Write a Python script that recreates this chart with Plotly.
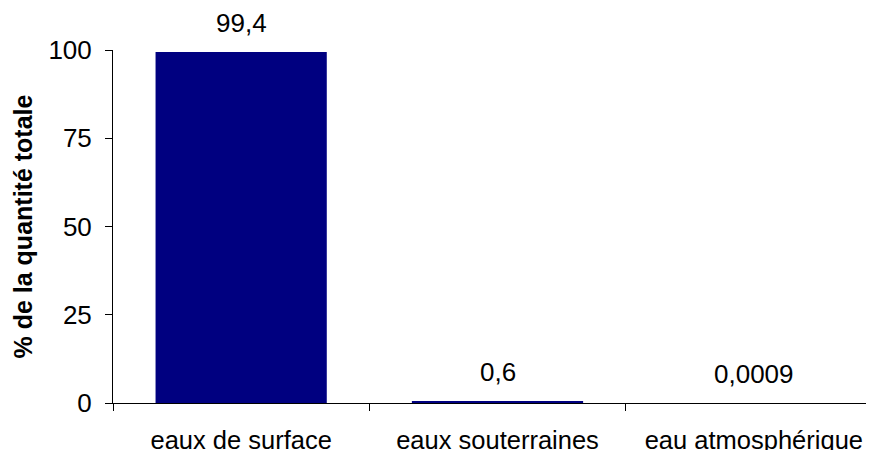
import plotly.graph_objects as go

categories = ["eaux de surface", "eaux souterraines", "eau atmosphérique"]
values = [99.4, 0.6, 0.0009]
y_ticks = [0, 25, 50, 75, 100]
y_title = "% de la quantité totale"

labels = [str(v).replace(".", ",") for v in values]

FONT = "Liberation Sans, Arial, sans-serif"
NAVY = "#000080"

# the page body has an 8px default margin; compensate in figure size
W, H = 874, 442
ML, MR, MT, MB = 105, 0, 42, 47
plot_w = W - ML - MR

fig = go.Figure()
fig.add_trace(go.Bar(
    x=categories, y=values,
    marker=dict(color=NAVY, line=dict(width=0)),
    hoverinfo="skip",
))

for c, v, t in zip(categories, values, labels):
    fig.add_annotation(
        x=c, y=v, xref="x", yref="y", text=t, showarrow=False,
        yanchor="bottom", yshift=12,
        font=dict(family=FONT, size=26, color="black"),
    )

# y-axis title as rotated annotation
fig.add_annotation(
    xref="paper", yref="paper", x=(22 - 8 - ML) / plot_w, y=0.5,
    xanchor="center", yanchor="middle", textangle=-90, showarrow=False,
    text="<b>" + y_title + "</b>",
    font=dict(family=FONT, size=25, color="black"),
)

fig.update_layout(
    width=W, height=H,
    margin=dict(l=ML, r=MR, t=MT, b=MB, autoexpand=False),
    paper_bgcolor="white", plot_bgcolor="white",
    bargap=0.332,
    showlegend=False,
    font=dict(family=FONT, size=26, color="black"),
)
fig.update_xaxes(
    type="category",
    range=[-0.5, 2.5],
    showline=True, linecolor="black", linewidth=1,
    ticks="outside", tickson="boundaries", ticklen=7, tickcolor="black",
    showgrid=False, zeroline=False,
    tickfont=dict(family=FONT, size=25.5, color="black"),
    ticklabelstandoff=14,
)
fig.update_yaxes(
    range=[0, 100],
    tickvals=y_ticks,
    showline=True, linecolor="black", linewidth=1,
    ticks="outside", ticklen=7, tickcolor="black",
    showgrid=False, zeroline=False,
    tickfont=dict(family=FONT, size=26, color="black"),
    ticklabelstandoff=8,
)

fig.write_html("out.html")
